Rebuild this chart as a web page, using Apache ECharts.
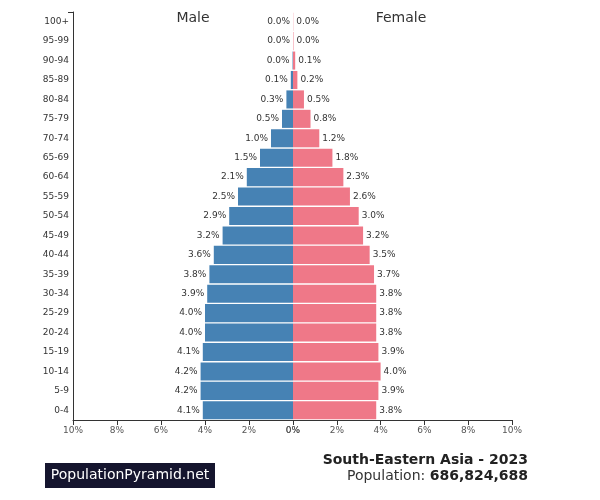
<!DOCTYPE html>
<html><head><meta charset="utf-8">
<script src="https://cdn.jsdelivr.net/npm/echarts@6/dist/echarts.min.js"></script>
<style>html,body{margin:0;padding:0;background:#fff}#c{width:600px;height:500px}</style>
</head><body><div id="c"></div>
<script>
const ageGroups = ['0-4','5-9','10-14','15-19','20-24','25-29','30-34','35-39','40-44','45-49','50-54','55-59','60-64','65-69','70-74','75-79','80-84','85-89','90-94','95-99','100+'];
const maleValues = [4.1,4.2,4.2,4.1,4.0,4.0,3.9,3.8,3.6,3.2,2.9,2.5,2.1,1.5,1.0,0.5,0.3,0.1,0.02,0.0,0.0];
const femaleValues = [3.8,3.9,4.0,3.9,3.8,3.8,3.8,3.7,3.5,3.2,3.0,2.6,2.3,1.8,1.2,0.8,0.5,0.2,0.1,0.02,0.01];
const xTicks = [0,2,4,6,8,10];
const titleText = 'South-Eastern Asia - 2023';
const populationText = '686,824,688';

const FONT = 'DejaVu Sans';
const chart = echarts.init(document.getElementById('c'), null, {renderer:'canvas'});
const xAxisCommon = {
  type:'value', min:xTicks[0], max:xTicks[xTicks.length-1], interval:2,
  axisLine:{show:true, lineStyle:{color:'#333', width:1}},
  axisTick:{show:true, length:5, lineStyle:{color:'#333'}},
  axisLabel:{formatter:v=>v+'%', fontFamily:FONT, fontSize:9, color:'#555', margin:6},
  splitLine:{show:false}
};
chart.setOption({
  animation:false,
  grid:[
    {left:73, width:220, top:12, bottom:80},
    {left:293, width:219, top:12, bottom:80}
  ],
  xAxis:[
    Object.assign({gridIndex:0, inverse:true}, xAxisCommon),
    Object.assign({gridIndex:1}, xAxisCommon)
  ],
  yAxis:[
    {type:'category', gridIndex:0, data:ageGroups, position:'left',
     axisLine:{show:true, onZero:false, lineStyle:{color:'#333'}}, axisTick:{show:false},
     axisLabel:{fontFamily:FONT, fontSize:9, color:'#333', margin:4}},
    {type:'category', gridIndex:1, data:ageGroups, show:false}
  ],
  series:[
    {type:'bar', xAxisIndex:0, yAxisIndex:0, data:maleValues, barWidth:'93%',
     itemStyle:{color:'#4682b4'},
     label:{show:true, position:'left', distance:3, formatter:p=>p.value.toFixed(1)+'%',
            fontFamily:FONT, fontSize:9, color:'#333'}},
    {type:'bar', xAxisIndex:1, yAxisIndex:1, data:femaleValues, barWidth:'93%',
     itemStyle:{color:'#ef7888'},
     label:{show:true, position:'right', distance:3, formatter:p=>p.value.toFixed(1)+'%',
            fontFamily:FONT, fontSize:9, color:'#333'}}
  ],
  graphic:[
    {type:'text', x:193, y:11, style:{text:'Male', font:'14px "DejaVu Sans"', fill:'#333', textAlign:'center'}},
    {type:'text', x:401, y:11, style:{text:'Female', font:'14px "DejaVu Sans"', fill:'#333', textAlign:'center'}},
    {type:'line', shape:{x1:68, y1:12.5, x2:73, y2:12.5}, style:{stroke:'#333', lineWidth:1}},
    {type:'rect', shape:{x:45, y:463, width:170, height:25}, style:{fill:'#15152e'}},
    {type:'text', x:130, y:475.5, style:{text:'PopulationPyramid.net', font:'14px "DejaVu Sans"', fill:'#fff', textAlign:'center', textVerticalAlign:'middle'}},
    {type:'text', x:528, y:460, style:{text:titleText, font:'bold 14px "DejaVu Sans"', fill:'#222', textAlign:'right', textVerticalAlign:'middle'}},
    {type:'text', x:528, y:476, style:{
      text:'{a|Population: }{b|'+populationText+'}',
      rich:{a:{font:'14px "DejaVu Sans"', fill:'#333'}, b:{font:'bold 14px "DejaVu Sans"', fill:'#222'}},
      textAlign:'right', textVerticalAlign:'middle'}}
  ]
});
</script></body></html>
